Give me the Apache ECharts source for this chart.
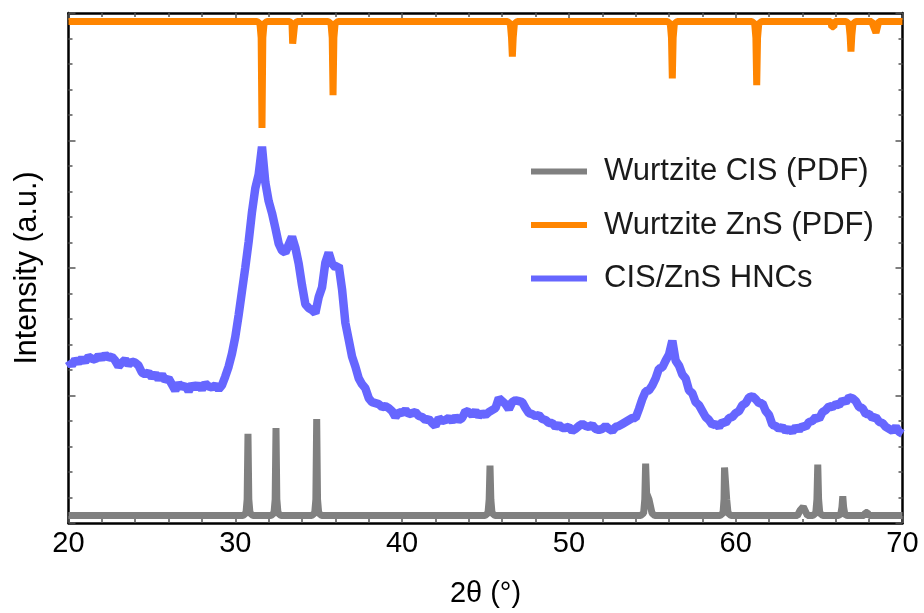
<!DOCTYPE html>
<html>
<head>
<meta charset="utf-8">
<script src="https://cdn.jsdelivr.net/npm/echarts@6/dist/echarts.min.js"></script>
<style>
  html, body { margin:0; padding:0; background:#fff; }
  #chart { width:924px; height:613px; }
</style>
</head>
<body>
<div id="chart"></div>
<script>
// ---- Data (2θ in degrees, intensity in arbitrary units) ----
const seriesNames = ['Wurtzite CIS (PDF)', 'Wurtzite ZnS (PDF)', 'CIS/ZnS HNCs'];

// Wurtzite CIS reference pattern (PDF), drawn at the bottom
const cisTheta = [20,
  30.46,30.64,30.71,30.76,30.81,30.88,31.06,
  32.14,32.32,32.39,32.44,32.49,32.56,32.74,
  34.58,34.76,34.83,34.88,34.93,35.00,35.18,
  44.97,45.15,45.22,45.27,45.32,45.39,45.57,
  54.30,54.48,54.55,54.60,54.66,54.80,54.90,54.98,55.15,
  59.06,59.24,59.30,59.33,59.42,59.46,59.54,59.72,
  63.70,63.85,63.95,64.05,64.15,64.30,
  64.62,64.80,64.87,64.92,64.97,65.04,65.22,
  66.15,66.30,66.37,66.42,66.47,66.54,66.70,
  67.70,67.78,67.90,68.00,
  70];
const cisIntensity = [7.5,
  7.5,10,24,90,24,10,7.5,
  7.5,10,24,96,24,10,7.5,
  7.5,10,24,105,24,10,7.5,
  7.5,10,24,58,24,10,7.5,
  7.5,10,24,60,30,24,22,10,7.5,
  7.5,10,24,56,55,24,10,7.5,
  7.5,12.5,12,16.5,16,7.5,
  7.5,10,24,59,24,10,7.5,
  7.5,9,16,27,16,9,7.5,
  7.5,10.5,10.5,7.5,
  7.5];

// Wurtzite ZnS reference pattern (PDF), drawn inverted at the top
const znsTheta = [20,
  31.30,31.48,31.55,31.60,31.65,31.72,31.90,
  33.25,33.40,33.44,33.52,33.56,33.71,
  35.56,35.74,35.81,35.86,35.91,35.98,36.16,
  46.31,46.49,46.56,46.61,46.66,46.73,46.91,
  55.90,56.08,56.15,56.20,56.25,56.32,56.50,
  60.96,61.14,61.21,61.26,61.31,61.38,61.56,
  65.70,65.76,65.88,65.94,
  66.61,66.79,66.86,66.91,66.96,67.03,67.21,
  68.15,68.41,68.58,
  70];
const znsIntensity = [506.5,
  506.5,504,490,399,490,504,506.5,
  506.5,504,484,484,504,506.5,
  506.5,504,490,432,490,504,506.5,
  506.5,504,490,471,490,504,506.5,
  506.5,504,490,449,490,504,506.5,
  506.5,504,490,442,490,504,506.5,
  506.5,501,501,506.5,
  506.5,504,492,476,492,504,506.5,
  506.5,495,506.5,
  506.5];

// CIS/ZnS HNCs measured pattern: 2θ from 20.0 to 70.0 in 0.2° steps
const hncStart = 20, hncStep = 0.2;
const hncIntensity = [
  164,159,165,162,166,163,168,166,165,169,   // 20.0-21.8
  166,170,167,168,164,158,162,165,160,163,   // 22.0-23.8
  162,159,152,150,152,147,151,145,150,144,   // 24.0-25.8
  146,140,134,141,137,139,133,140,136,140,   // 26.0-27.8
  135,141,138,137,139,135,139,148,158,171,   // 28.0-29.8
  188,210,234,258,284,314,338,352,380,344,   // 30.0-31.8
  325,313,298,282,275,273,281,289,278,262,   // 32.0-33.8
  240,221,217,215,212,228,238,263,273,262,   // 34.0-35.8
  258,260,236,202,185,168,158,146,140,136,   // 36.0-37.8
  126,122,121,120,117,118,116,113,107,112,   // 38.0-39.8
  111,114,110,111,112,108,107,104,105,101,   // 40.0-41.8
  98,106,103,104,106,103,107,104,106,113,    // 42.0-43.8
  112,109,113,108,111,109,112,114,116,126,   // 44.0-45.8
  123,120,115,122,124,123,122,116,111,110,   // 46.0-47.8
  108,109,105,104,101,101,97,99,96,96,       // 48.0-49.8
  97,93,95,98,100,98,97,99,95,94,            // 50.0-51.8
  95,98,95,93,97,98,100,102,104,106,         // 52.0-53.8
  106,115,125,133,134,139,146,156,157,164,   // 54.0-55.8
  170,184,164,159,150,146,134,131,122,119,   // 56.0-57.8
  113,107,104,99,100,97,102,101,106,107,     // 58.0-59.8
  111,113,119,121,127,128,125,121,121,113,   // 60.0-61.8
  109,99,98,95,97,93,95,92,97,94,            // 62.0-63.8
  98,97,102,103,107,105,112,114,118,117,     // 64.0-65.8
  120,119,124,122,127,126,123,117,116,110,   // 66.0-67.8
  110,106,107,102,101,97,95,93,97,92,        // 68.0-69.8
  90                                          // 70.0
];

const xTickLabels = ['20','30','40','50','60','70'];

// ---- Build chart ----
const FONT = '"Liberation Sans", Arial, Helvetica, sans-serif';
const pair = (xs, ys) => xs.map((x, i) => [x, ys[i]]);
const hncData = hncIntensity.map((v, i) => [+(hncStart + i * hncStep).toFixed(2), v]);

const frameLine = { show: true, onZero: false, lineStyle: { color: '#000', width: 2.5 } };
const tick = { show: true, inside: true, length: 7, lineStyle: { color: '#555', width: 1.5 } };
const minor = { show: true, splitNumber: 5, length: 4, lineStyle: { color: '#555', width: 1.5 } };

const chart = echarts.init(document.getElementById('chart'), null, { renderer: 'canvas' });
chart.setOption({
  animation: false,
  backgroundColor: '#fff',
  grid: { left: 68.5, right: 21.5, top: 13, bottom: 85, containLabel: false },
  legend: {
    orient: 'vertical', left: 531, top: 156, padding: 0,
    itemWidth: 56, itemHeight: 6, itemGap: 22.5, icon: 'rect',
    textStyle: { fontSize: 31, color: '#1a1a1a', fontFamily: FONT, lineHeight: 31, padding: [0, 0, 0, 12] },
    data: seriesNames
  },
  xAxis: [
    {
      type: 'value', min: 20, max: 70, interval: 10, position: 'bottom',
      axisLine: frameLine, axisTick: tick, minorTick: minor, splitLine: { show: false },
      axisLabel: { fontSize: 29, color: '#000', margin: 6, fontFamily: FONT,
        formatter: (v) => xTickLabels[Math.round((v - 20) / 10)] },
      name: '2θ (°)', nameLocation: 'middle', nameGap: 56,
      nameTextStyle: { fontSize: 29, color: '#000', fontFamily: FONT }
    },
    {
      type: 'value', min: 20, max: 70, interval: 10, position: 'top',
      axisLine: frameLine, axisTick: tick, minorTick: minor, splitLine: { show: false },
      axisLabel: { show: false }
    }
  ],
  yAxis: [
    {
      type: 'value', min: 0, max: 515, interval: 128.75, position: 'left',
      axisLine: frameLine, axisTick: tick, minorTick: minor, splitLine: { show: false },
      axisLabel: { show: false },
      name: 'Intensity (a.u.)', nameLocation: 'middle', nameGap: 25,
      nameTextStyle: { fontSize: 30.5, color: '#000', fontFamily: FONT }
    },
    {
      type: 'value', min: 0, max: 515, interval: 128.75, position: 'right',
      axisLine: frameLine, axisTick: tick, minorTick: minor, splitLine: { show: false },
      axisLabel: { show: false }
    }
  ],
  series: [
    {
      name: seriesNames[0], type: 'line', xAxisIndex: 0, yAxisIndex: 0,
      data: pair(cisTheta, cisIntensity), symbol: 'none', color: '#808080',
      lineStyle: { width: 7, color: '#808080' }, z: 2
    },
    {
      name: seriesNames[1], type: 'line', xAxisIndex: 0, yAxisIndex: 0,
      data: pair(znsTheta, znsIntensity), symbol: 'none', color: '#ff8500',
      lineStyle: { width: 7, color: '#ff8500' }, z: 3
    },
    {
      name: seriesNames[2], type: 'line', xAxisIndex: 0, yAxisIndex: 0,
      data: hncData, symbol: 'none', color: '#6666ff',
      lineStyle: { width: 8.5, color: '#6666ff' }, z: 4
    }
  ]
});
</script>
</body>
</html>
